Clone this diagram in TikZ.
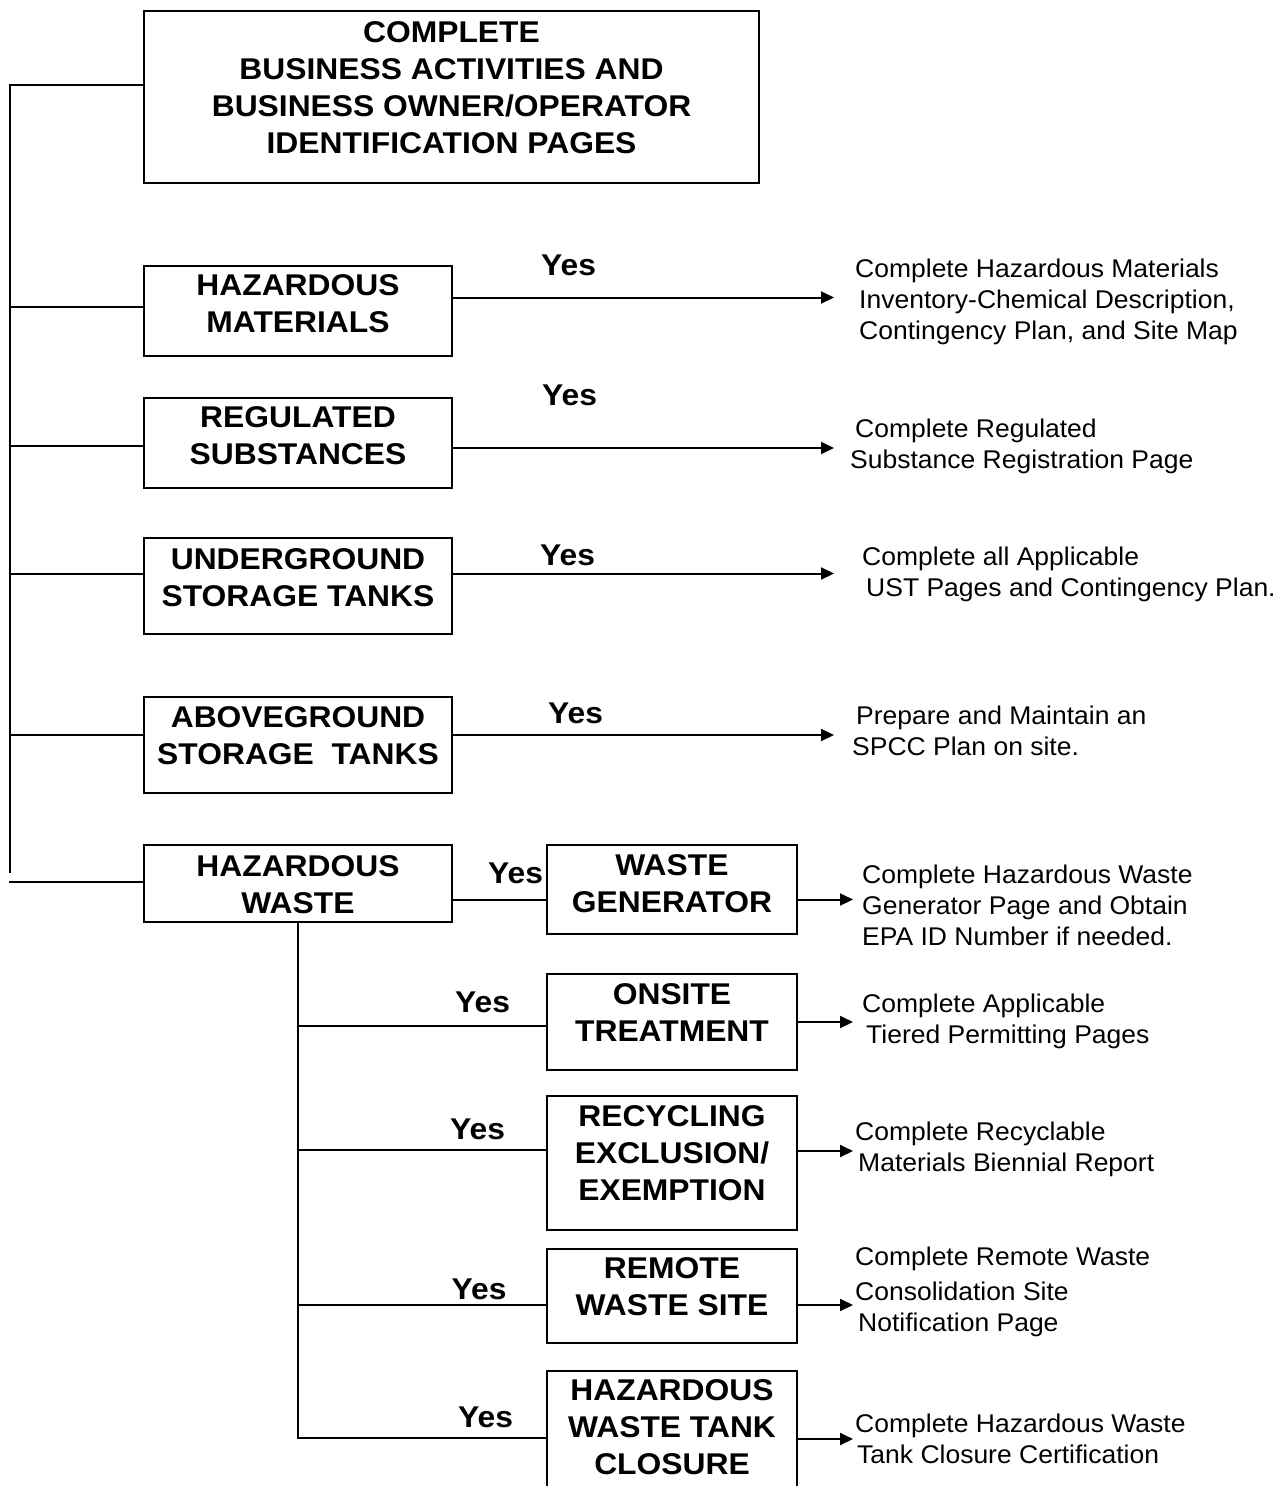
\documentclass[tikz,border=0pt]{standalone}
\usepackage{fontspec}
\setmainfont{Liberation Sans}
\newfontfamily\bxfont{Liberation Sans}[FakeStretch=1.06]
\newfontfamily\rtfont{Liberation Sans}[FakeStretch=1.035]
\usetikzlibrary{arrows.meta}
\newcommand\BT[1]{\begin{tabular}[t]{@{}c@{}}#1\end{tabular}}
\newcommand\RT[1]{\begin{tabular}[t]{@{}l@{}}#1\end{tabular}}
\tikzset{
  box/.style={draw, line width=2pt, inner sep=0pt, rectangle},
  btxt/.style={anchor=base, inner sep=0pt, font=\bxfont\bfseries\fontsize{30}{37}\selectfont},
  yes/.style={anchor=base west, inner sep=0pt, font=\bxfont\bfseries\fontsize{30}{37}\selectfont},
  rtxt/.style={anchor=base west, inner sep=0pt, font=\rtfont\fontsize{25.6}{31}\selectfont},
  conn/.style={line width=2pt, line cap=rect},
  arr/.style={line width=2pt, -{Triangle[length=13pt,width=12pt]}}
}
\begin{document}
\begin{tikzpicture}[x=1pt,y=-1pt]
\path[use as bounding box] (0,0) rectangle (1279,1486);
\clip (0,0) rectangle (1279,1486);

% boxes
\node[box, minimum width=615, minimum height=172] (top) at (451.5,97) {};
\node[box, minimum width=308, minimum height=90] (hm) at (298,311) {};
\node[box, minimum width=308, minimum height=90] (rs) at (298,443) {};
\node[box, minimum width=308, minimum height=96] (ust) at (298,586) {};
\node[box, minimum width=308, minimum height=96] (ast) at (298,745) {};
\node[box, minimum width=308, minimum height=77] (hw) at (298,883.5) {};
\node[box, minimum width=250, minimum height=89] (wg) at (672,889.5) {};
\node[box, minimum width=250, minimum height=96] (ot) at (672,1022) {};
\node[box, minimum width=250, minimum height=134] (re) at (672,1163) {};
\node[box, minimum width=250, minimum height=94] (rw) at (672,1296) {};
\node[box, minimum width=250, minimum height=120] (hwt) at (672,1431) {};

% box texts
\node[btxt] (topt) at (451.5,42) {\BT{COMPLETE\\BUSINESS ACTIVITIES AND\\BUSINESS OWNER/OPERATOR\\IDENTIFICATION PAGES}};
\node[btxt] (hmt) at (298,295) {\BT{HAZARDOUS\\MATERIALS}};
\node[btxt] (rst) at (298,427.5) {\BT{REGULATED\\SUBSTANCES}};
\node[btxt] (ustt) at (298,569) {\BT{UNDERGROUND\\STORAGE TANKS}};
\node[btxt] (astt) at (298,727) {\BT{ABOVEGROUND\\STORAGE\ \ TANKS}};
\node[btxt] (hwtt) at (298,876) {\BT{HAZARDOUS\\WASTE}};
\node[btxt] (wgt) at (672,875) {\BT{WASTE\\GENERATOR}};
\node[btxt] (ott) at (672,1004) {\BT{ONSITE\\TREATMENT}};
\node[btxt] (ret) at (672,1126) {\BT{RECYCLING\\EXCLUSION/\\EXEMPTION}};
\node[btxt] (rwt) at (672,1278) {\BT{REMOTE\\WASTE SITE}};
\node[btxt] (hwtkt) at (672,1400.5) {\BT{HAZARDOUS\\WASTE TANK\\CLOSURE}};

% Yes labels
\node[yes] (y1) at (541,275) {Yes};
\node[yes] (y2) at (542,405) {Yes};
\node[yes] (y3) at (540,565) {Yes};
\node[yes] (y4) at (548,723) {Yes};
\node[yes] (y5) at (488,883) {Yes};
\node[yes] (y6) at (455,1012) {Yes};
\node[yes] (y7) at (450,1139) {Yes};
\node[yes] (y8) at (451.5,1299) {Yes};
\node[yes] (y9) at (458,1427) {Yes};

% right texts
\node[rtxt] (r1) at (855,277) {\RT{Complete Hazardous Materials\\\hspace*{4pt}Inventory-Chemical Description,\\\hspace*{4pt}Contingency Plan, and Site Map}};
\node[rtxt] (r2) at (850,437) {\RT{\hspace*{5pt}Complete Regulated\\Substance Registration Page}};
\node[rtxt] (r3) at (862,565) {\RT{Complete all Applicable\\\hspace*{4pt}UST Pages and Contingency Plan.}};
\node[rtxt] (r4) at (852,724) {\RT{\hspace*{4pt}Prepare and Maintain an\\SPCC Plan on site.}};
\node[rtxt] (r5) at (862,883) {\RT{Complete Hazardous Waste\\Generator Page and Obtain\\EPA ID Number if needed.}};
\node[rtxt] (r6) at (862,1012) {\RT{Complete Applicable\\\hspace*{4pt}Tiered Permitting Pages}};
\node[rtxt] (r7) at (855,1140) {\RT{Complete Recyclable\\\hspace*{3pt}Materials Biennial Report}};
\node[rtxt] (r8) at (855,1265) {\RT{Complete Remote Waste\\[4pt]Consolidation Site\\\hspace*{3pt}Notification Page}};
\node[rtxt] (r9) at (855,1432) {\RT{Complete Hazardous Waste\\\hspace*{2pt}Tank Closure Certification}};

% trunk and left connectors
\coordinate (c0) at (10,85);
\coordinate (cend) at (10,873);
\coordinate (c1) at (10,307);
\coordinate (c2) at (10,446);
\coordinate (c3) at (10,574);
\coordinate (c4) at (10,735);
\coordinate (c5) at (10,882);
\draw[line width=2pt] (c0 -| top.west) -- (c0) -- (cend);
\draw[conn] (c1) -- (c1 -| hm.west);
\draw[conn] (c2) -- (c2 -| rs.west);
\draw[conn] (c3) -- (c3 -| ust.west);
\draw[conn] (c4) -- (c4 -| ast.west);
\draw[conn] (c5) -- (c5 -| hw.west);

% main arrows
\coordinate (e1) at (834,297.5);
\coordinate (e2) at (834,448);
\coordinate (e3) at (834,573.5);
\coordinate (e4) at (834,735);
\draw[arr] (e1 -| hm.east) -- (e1);
\draw[arr] (e2 -| rs.east) -- (e2);
\draw[arr] (e3 -| ust.east) -- (e3);
\draw[arr] (e4 -| ast.east) -- (e4);

% hazardous waste branches
\coordinate (g1) at (452,899.5);
\draw[conn] (g1 -| hw.east) -- (g1 -| wg.west);
\coordinate (vb) at (298,1438);
\draw[line width=2pt] (hw.south) -- (vb) -- (vb -| hwt.west);
\coordinate (b1) at (298,1026);
\coordinate (b2) at (298,1150);
\coordinate (b3) at (298,1304.5);
\draw[conn] (b1) -- (b1 -| ot.west);
\draw[conn] (b2) -- (b2 -| re.west);
\draw[conn] (b3) -- (b3 -| rw.west);

% sub arrows
\coordinate (s1) at (853,899.5);
\coordinate (s2) at (853,1022);
\coordinate (s3) at (853,1151);
\coordinate (s4) at (853,1305);
\coordinate (s5) at (853,1439);
\draw[arr] (s1 -| wg.east) -- (s1);
\draw[arr] (s2 -| ot.east) -- (s2);
\draw[arr] (s3 -| re.east) -- (s3);
\draw[arr] (s4 -| rw.east) -- (s4);
\draw[arr] (s5 -| hwt.east) -- (s5);
\end{tikzpicture}
\end{document}
